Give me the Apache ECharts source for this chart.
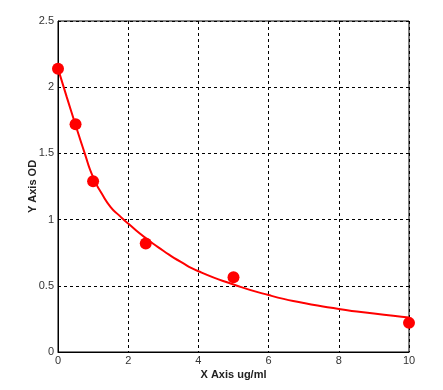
<!DOCTYPE html>
<html><head><meta charset="utf-8">
<script src="https://cdn.jsdelivr.net/npm/echarts@6/dist/echarts.min.js"></script>
<style>html,body{margin:0;padding:0;background:#fff}#c{width:443px;height:390px}</style>
</head><body><div id="c"></div>
<script>
const pointX = [0, 0.5, 1, 2.5, 5, 10];
const pointY = [2.14, 1.72, 1.29, 0.82, 0.565, 0.22];
const curveX = [0, 0.25, 0.5, 0.75, 1, 1.25, 1.5, 1.75, 2, 2.5, 3, 3.5, 4, 5, 6, 7, 8, 9, 10];
const curveY = [2.14, 1.925, 1.715, 1.51, 1.32, 1.195, 1.095, 1.03, 0.97, 0.86, 0.765, 0.68, 0.61, 0.51, 0.43, 0.37, 0.325, 0.29, 0.26];
const xTitle = 'X Axis ug/ml';
const yTitle = 'Y Axis OD';

const chart = echarts.init(document.getElementById('c'), null, {renderer: 'canvas'});
const grid = {left: 58, top: 21, width: 351, height: 331, show: true, borderColor: '#000', borderWidth: 1};
const labelStyle = {color: '#333', fontFamily: 'Liberation Sans, Arial, sans-serif', fontSize: 11};
const split = {show: true, lineStyle: {color: '#000', type: [3, 3], width: 1}};
chart.setOption({
  animation: false,
  grid: grid,
  xAxis: {
    type: 'value', min: 0, max: 10, interval: 2,
    name: xTitle, nameLocation: 'middle', nameGap: 17, nameMoveOverlap: false,
    nameTextStyle: {fontFamily: 'Liberation Sans, Arial, sans-serif', fontSize: 11, fontWeight: 'bold', color: '#222'},
    axisLine: {show: true, lineStyle: {color: '#000'}},
    axisTick: {show: false},
    axisLabel: Object.assign({margin: 3}, labelStyle),
    splitLine: split
  },
  yAxis: {
    type: 'value', min: 0, max: 2.5, interval: 0.5,
    name: yTitle, nameLocation: 'middle', nameGap: 20, nameMoveOverlap: false,
    nameTextStyle: {fontFamily: 'Liberation Sans, Arial, sans-serif', fontSize: 11, fontWeight: 'bold', color: '#222'},
    axisLine: {show: true, lineStyle: {color: '#000'}},
    axisTick: {show: false},
    axisLabel: Object.assign({margin: 4}, labelStyle),
    splitLine: split
  },
  series: [
    {
      type: 'line', smooth: 0.6, showSymbol: false,
      data: curveX.map((x, i) => [x, curveY[i]]),
      lineStyle: {color: '#ff0000', width: 2},
      z: 2
    },
    {
      type: 'scatter', symbol: 'circle', symbolSize: 12,
      data: pointX.map((x, i) => [x, pointY[i]]),
      itemStyle: {color: '#ff0000', opacity: 1},
      z: 3
    }
  ]
});
</script></body></html>
